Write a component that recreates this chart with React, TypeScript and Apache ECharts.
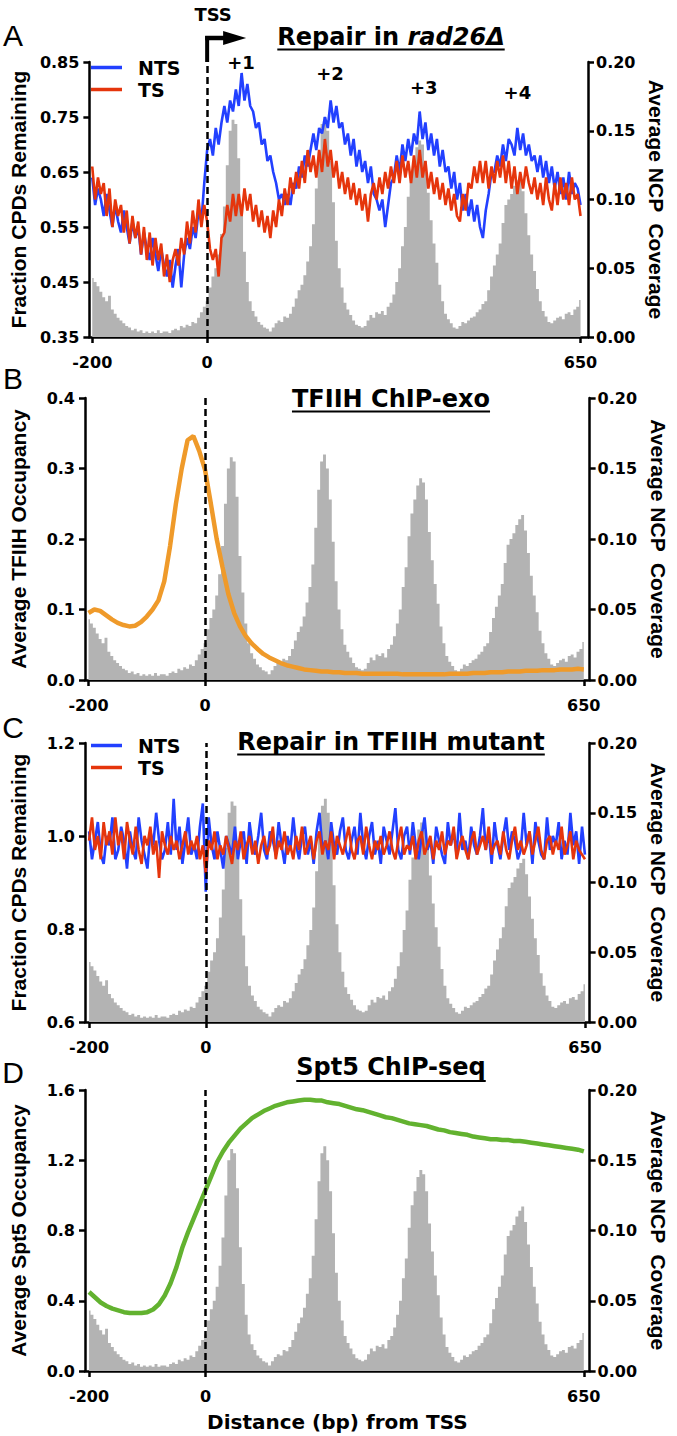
import React, { useEffect, useRef } from 'react';
import * as echarts from 'echarts';

// ---------- data ----------
// bin centres (bp from TSS) for 5-bp resolution data and 10-bp resolution data
const BP5: number[] = Array.from({ length: 171 }, (_, i) => -200 + 5 * i);
const BP10: number[] = Array.from({ length: 86 }, (_, i) => -200 + 10 * i);

const X_TICKS = [-200, 0, 650];

// Average NCP coverage (grey histogram), -200..650 step 5
const NCP = [
  0.043, 0.040, 0.037, 0.033, 0.029, 0.026, 0.030, 0.020, 0.017, 0.014,
  0.012, 0.010, 0.008, 0.007, 0.005, 0.006, 0.004, 0.005, 0.003, 0.004,
  0.003, 0.004, 0.003, 0.005, 0.003, 0.004, 0.004, 0.003, 0.005, 0.006,
  0.005, 0.008, 0.007, 0.009, 0.008, 0.011, 0.010, 0.014, 0.018, 0.022,
  0.026, 0.036, 0.044, 0.050, 0.060, 0.075, 0.095, 0.125, 0.150, 0.158,
  0.155, 0.130, 0.088, 0.062, 0.040, 0.026, 0.019, 0.015, 0.011, 0.009,
  0.007, 0.006, 0.004, 0.007, 0.010, 0.012, 0.011, 0.015, 0.014, 0.017,
  0.022, 0.028, 0.034, 0.038, 0.045, 0.055, 0.066, 0.082, 0.108, 0.135,
  0.155, 0.160, 0.150, 0.128, 0.098, 0.070, 0.050, 0.036, 0.025, 0.020,
  0.016, 0.012, 0.009, 0.008, 0.007, 0.008, 0.012, 0.016, 0.014, 0.018,
  0.017, 0.019, 0.016, 0.022, 0.025, 0.031, 0.040, 0.050, 0.066, 0.080,
  0.102, 0.118, 0.128, 0.138, 0.143, 0.140, 0.128, 0.105, 0.085, 0.068,
  0.054, 0.038, 0.026, 0.017, 0.013, 0.010, 0.007, 0.006, 0.008, 0.011,
  0.010, 0.012, 0.014, 0.015, 0.018, 0.020, 0.024, 0.026, 0.034, 0.044,
  0.052, 0.060, 0.068, 0.083, 0.096, 0.100, 0.104, 0.110, 0.114, 0.117,
  0.106, 0.090, 0.074, 0.060, 0.048, 0.035, 0.026, 0.019, 0.015, 0.011,
  0.010, 0.012, 0.014, 0.015, 0.013, 0.017, 0.018, 0.016, 0.020, 0.022,
  0.027,
];

// Panel A: fraction CPDs remaining in rad26Δ
const NTS_A = [
  0.64, 0.59, 0.62, 0.60, 0.57, 0.61, 0.58, 0.55, 0.59, 0.56,
  0.54, 0.58, 0.55, 0.52, 0.56, 0.53, 0.55, 0.50, 0.54, 0.51,
  0.49, 0.53, 0.50, 0.47, 0.51, 0.48, 0.46, 0.49, 0.44, 0.48,
  0.51, 0.44, 0.50, 0.53, 0.51, 0.55, 0.53, 0.58, 0.56, 0.63,
  0.69, 0.71, 0.68, 0.73, 0.70, 0.74, 0.77, 0.74, 0.78, 0.76,
  0.80, 0.77, 0.83, 0.78, 0.81, 0.77, 0.76, 0.73, 0.74, 0.70,
  0.71, 0.67, 0.68, 0.65, 0.63, 0.60, 0.61, 0.59, 0.61, 0.59,
  0.63, 0.62, 0.66, 0.64, 0.68, 0.66, 0.69, 0.72, 0.69, 0.73,
  0.72, 0.75, 0.73, 0.78, 0.74, 0.77, 0.73, 0.74, 0.70, 0.72,
  0.68, 0.71, 0.66, 0.69, 0.65, 0.67, 0.63, 0.66, 0.61, 0.60,
  0.58, 0.60, 0.55, 0.59, 0.63, 0.64, 0.68, 0.65, 0.70, 0.67,
  0.71, 0.68, 0.72, 0.70, 0.76, 0.71, 0.74, 0.69, 0.72, 0.68,
  0.71, 0.66, 0.69, 0.65, 0.66, 0.62, 0.65, 0.60, 0.63, 0.58,
  0.61, 0.57, 0.60, 0.56, 0.59, 0.55, 0.53, 0.58, 0.61, 0.65,
  0.65, 0.68, 0.66, 0.70, 0.67, 0.71, 0.70, 0.68, 0.73, 0.69,
  0.72, 0.68, 0.70, 0.67, 0.68, 0.65, 0.68, 0.64, 0.67, 0.63,
  0.66, 0.62, 0.65, 0.61, 0.64, 0.60, 0.65, 0.61, 0.63, 0.62,
  0.59,
];
const TS_A = [
  0.66, 0.60, 0.64, 0.61, 0.63, 0.57, 0.62, 0.55, 0.60, 0.57,
  0.59, 0.54, 0.58, 0.52, 0.57, 0.53, 0.56, 0.50, 0.55, 0.49,
  0.54, 0.48, 0.53, 0.49, 0.52, 0.46, 0.50, 0.45, 0.49, 0.51,
  0.48, 0.53, 0.50, 0.56, 0.52, 0.58, 0.54, 0.60, 0.55, 0.59,
  0.56, 0.51, 0.49, 0.51, 0.46, 0.53, 0.54, 0.59, 0.56, 0.61,
  0.57, 0.61, 0.57, 0.62, 0.58, 0.61, 0.56, 0.59, 0.55, 0.58,
  0.54, 0.57, 0.53, 0.58, 0.55, 0.60, 0.57, 0.62, 0.59, 0.64,
  0.61, 0.65, 0.62, 0.67, 0.63, 0.69, 0.65, 0.68, 0.64, 0.69,
  0.65, 0.71, 0.66, 0.69, 0.64, 0.67, 0.62, 0.65, 0.61, 0.64,
  0.60, 0.63, 0.59, 0.62, 0.58, 0.61, 0.56, 0.61, 0.63, 0.60,
  0.64, 0.61, 0.65, 0.62, 0.66, 0.63, 0.67, 0.63, 0.68, 0.64,
  0.67, 0.63, 0.68, 0.64, 0.69, 0.64, 0.67, 0.62, 0.65, 0.61,
  0.64, 0.60, 0.63, 0.59, 0.62, 0.58, 0.61, 0.57, 0.56, 0.61,
  0.58, 0.63, 0.62, 0.66, 0.63, 0.67, 0.63, 0.67, 0.62, 0.66,
  0.63, 0.67, 0.64, 0.68, 0.63, 0.67, 0.62, 0.66, 0.61, 0.65,
  0.62, 0.66, 0.63, 0.61, 0.64, 0.60, 0.63, 0.59, 0.64, 0.60,
  0.58, 0.63, 0.59, 0.64, 0.60, 0.63, 0.59, 0.64, 0.60, 0.61,
  0.57,
];

// Panel B: average TFIIH occupancy, -200..650 step 10
const TFIIH = [
  0.095, 0.100, 0.098, 0.092, 0.086, 0.081, 0.078, 0.076, 0.077, 0.082,
  0.090, 0.100, 0.113, 0.140, 0.190, 0.250, 0.300, 0.340, 0.346, 0.325,
  0.298, 0.250, 0.200, 0.160, 0.122, 0.095, 0.076, 0.062, 0.052, 0.044,
  0.037, 0.032, 0.028, 0.024, 0.021, 0.019, 0.017, 0.015, 0.014, 0.013,
  0.012, 0.012, 0.011, 0.011, 0.010, 0.010, 0.010, 0.009, 0.009, 0.009,
  0.009, 0.009, 0.009, 0.009, 0.008, 0.008, 0.008, 0.008, 0.008, 0.008,
  0.008, 0.008, 0.009, 0.009, 0.009, 0.009, 0.010, 0.010, 0.010, 0.011,
  0.011, 0.011, 0.012, 0.012, 0.012, 0.013, 0.013, 0.013, 0.014, 0.014,
  0.014, 0.015, 0.015, 0.015, 0.016, 0.015,
];

// Panel C: fraction CPDs remaining in TFIIH mutant
const NTS_C = [
  1.01, 0.95, 0.99, 1.03, 0.96, 0.94, 1.00, 0.98, 1.04, 0.95,
  0.97, 1.02, 0.99, 0.93, 1.01, 0.97, 0.95, 1.04, 0.99, 0.96,
  0.93, 1.01, 0.98, 1.05, 0.99, 0.95, 0.97, 1.03, 0.96, 1.08,
  0.97, 1.02, 0.94, 0.99, 1.04, 0.96, 0.98, 0.95, 1.02, 1.07,
  0.88, 1.04, 0.98, 0.95, 1.01, 0.97, 0.93, 1.00, 0.98, 0.96,
  1.02, 0.95, 0.99, 1.01, 0.94, 1.03, 0.98, 0.96, 1.00, 1.05,
  0.97, 0.95, 1.01, 0.99, 0.96, 1.03, 0.98, 0.94, 1.00, 0.97,
  1.04, 0.98, 0.95, 1.00, 1.02, 0.96, 0.99, 0.94, 1.01, 1.05,
  0.97, 0.99, 0.95, 1.03, 0.98, 0.96, 1.01, 1.04, 0.97, 0.95,
  0.99, 1.02, 0.96, 1.05, 0.98, 0.95, 1.00, 1.03, 0.96, 0.99,
  0.94, 1.02, 0.99, 0.96, 1.01, 1.06, 0.97, 0.95, 1.00, 1.02,
  0.96, 1.03, 0.98, 0.95, 1.00, 1.04, 0.97, 0.99, 0.94, 1.02,
  0.99, 0.96, 0.94, 1.03, 0.98, 1.01, 0.96, 1.05, 0.97, 0.99,
  0.95, 1.02, 0.98, 0.96, 1.00, 1.06, 0.97, 1.01, 0.94, 1.03,
  0.98, 0.95, 1.00, 1.04, 0.97, 1.01, 0.99, 0.95, 0.97, 1.05,
  0.98, 1.01, 0.94, 1.03, 0.99, 0.96, 0.95, 1.04, 0.97, 1.00,
  0.98, 1.03, 0.95, 0.99, 0.96, 1.05, 0.98, 1.01, 0.94, 1.02,
  0.96,
];
const TS_C = [
  0.99, 1.04, 0.97, 1.00, 0.95, 1.03, 0.98, 1.01, 0.96, 1.04,
  0.98, 1.01, 0.95, 1.03, 0.99, 0.96, 1.02, 0.97, 0.94, 1.00,
  0.98, 1.02, 0.96, 0.99, 0.91, 1.01, 0.98, 0.96, 1.00, 0.97,
  0.99, 0.95, 0.98, 1.01, 0.96, 0.99, 0.97, 1.00, 0.95, 0.98,
  0.92, 0.99, 0.97, 1.01, 0.95, 0.98, 0.96, 1.00, 0.97, 0.94,
  0.99, 0.97, 1.01, 0.95, 0.98, 1.00, 0.96, 0.99, 0.94, 0.98,
  1.00, 0.96, 0.98, 1.02, 0.95, 0.99, 0.97, 1.01, 0.96, 0.98,
  0.95, 1.00, 0.97, 1.02, 0.96, 0.98, 1.00, 0.95, 0.99, 1.01,
  0.96, 0.99, 0.97, 1.01, 0.95, 1.00, 0.98, 0.96, 0.99, 1.02,
  0.97, 0.95, 0.99, 1.00, 0.96, 1.02, 0.98, 0.95, 0.99, 0.97,
  1.00, 0.96, 0.98, 1.01, 0.97, 0.95, 0.99, 1.02, 0.96, 0.98,
  0.97, 1.00, 0.95, 0.99, 1.01, 0.96, 0.98, 1.00, 0.95, 0.99,
  0.97, 1.01, 0.96, 0.99, 0.98, 1.02, 0.95, 0.98, 1.00, 0.97,
  0.95, 0.99, 1.01, 0.96, 0.98, 1.00, 0.97, 1.02, 0.96, 0.98,
  0.99, 0.96, 1.01, 0.97, 0.95, 0.99, 1.02, 0.97, 0.99, 0.96,
  0.98, 1.01, 0.96, 0.99, 1.02, 0.97, 0.95, 0.99, 1.00, 0.96,
  0.99, 0.97, 1.02, 0.96, 0.98, 1.01, 0.95, 0.99, 0.97, 0.96,
  0.95,
];

// Panel D: average Spt5 occupancy, -200..650 step 10
const SPT5 = [
  0.45, 0.42, 0.39, 0.37, 0.355, 0.345, 0.335, 0.33, 0.33, 0.33,
  0.335, 0.35, 0.38, 0.43, 0.50, 0.59, 0.70, 0.79, 0.87, 0.95,
  1.03, 1.11, 1.19, 1.25, 1.30, 1.34, 1.38, 1.41, 1.44, 1.46,
  1.48, 1.495, 1.51, 1.52, 1.53, 1.535, 1.54, 1.545, 1.545, 1.54,
  1.54, 1.53, 1.525, 1.52, 1.51, 1.50, 1.49, 1.485, 1.475, 1.465,
  1.455, 1.445, 1.44, 1.43, 1.42, 1.41, 1.405, 1.40, 1.395, 1.385,
  1.375, 1.37, 1.36, 1.355, 1.35, 1.345, 1.335, 1.33, 1.325, 1.32,
  1.32, 1.315, 1.315, 1.31, 1.31, 1.305, 1.30, 1.295, 1.29, 1.285,
  1.28, 1.275, 1.27, 1.265, 1.26, 1.25,
];

const A_LEFT_TICKS = [0.35, 0.45, 0.55, 0.65, 0.75, 0.85];
const C_LEFT_TICKS = [0.6, 0.8, 1.0, 1.2];
const NUC_LABELS = [
  { text: '+1', bp: 59, y: 62 },
  { text: '+2', bp: 214, y: 73 },
  { text: '+3', bp: 377, y: 87 },
  { text: '+4', bp: 540, y: 92 },
];

// ---------- style ----------
const FONT = 'DejaVu Sans';
const VFONT = 'Liberation Sans';
const GRAY = '#b3b3b3';
const BLUE = '#2240ff';
const RED = '#e5350c';
const ORANGE = '#ef9a2a';
const GREEN = '#62b22f';

const GRIDS = [
  { left: 82, top: 62, width: 506, height: 275 },
  { left: 79, top: 398, width: 513, height: 282 },
  { left: 81, top: 743, width: 513, height: 279 },
  { left: 81, top: 1090, width: 516, height: 281 },
];
const XRANGE = [
  [-205, 663],
  [-206, 660],
  [-207, 658],
  [-207, 660],
];

const pair = (xs: number[], ys: number[]) => xs.map((x, i) => [x, ys[i]]);

const axisLineStyle = { color: '#000', width: 2.5 };
const labelStyle = { fontFamily: FONT, fontWeight: 'bold' as const, fontSize: 16, color: '#000' };
const nameStyle = { fontFamily: VFONT, fontWeight: 'bold' as const, fontSize: 21, color: '#000' };

function xAxis(i: number, withName = false) {
  return {
    type: 'value',
    gridIndex: i,
    min: XRANGE[i][0],
    max: XRANGE[i][1],
    axisLine: { show: true, onZero: false, lineStyle: axisLineStyle },
    axisTick: { show: true, length: 6, lineStyle: axisLineStyle, customValues: X_TICKS },
    axisLabel: { ...labelStyle, margin: 17, customValues: X_TICKS },
    splitLine: { show: false },
    name: withName ? 'Distance (bp) from TSS' : '',
    nameLocation: 'middle',
    nameGap: 41,
    nameTextStyle: { fontFamily: FONT, fontWeight: 'bold', fontSize: 20, color: '#000' },
  };
}

function leftY(i: number, name: string, min: number, max: number, digits: number, extra: any) {
  const { ticks, ...rest } = extra;
  return {
    type: 'value',
    gridIndex: i,
    position: 'left',
    min,
    max,
    ...rest,
    axisLine: { show: true, onZero: false, lineStyle: axisLineStyle },
    axisTick: { show: true, length: 6, lineStyle: axisLineStyle, ...(ticks ? { customValues: ticks } : {}) },
    axisLabel: {
      ...labelStyle,
      margin: 10,
      formatter: (v: number) => v.toFixed(digits),
      ...(ticks ? { customValues: ticks } : {}),
    },
    splitLine: { show: false },
    name,
    nameLocation: 'middle',
    nameGap: 56,
    nameTextStyle: nameStyle,
  };
}

function rightY(i: number) {
  return {
    type: 'value',
    gridIndex: i,
    position: 'right',
    min: 0,
    max: 0.2,
    interval: 0.05,
    axisLine: { show: true, onZero: false, lineStyle: axisLineStyle },
    axisTick: { show: true, length: 6, lineStyle: axisLineStyle },
    axisLabel: { ...labelStyle, margin: 8, formatter: (v: number) => v.toFixed(2) },
    splitLine: { show: false },
    name: 'Average NCP  Coverage',
    nameLocation: 'middle',
    nameRotate: -90,
    nameGap: 56,
    nameTextStyle: nameStyle,
  };
}

function hist(i: number) {
  return {
    type: 'line',
    xAxisIndex: i,
    yAxisIndex: 2 * i + 1,
    data: pair(BP5, NCP),
    step: 'middle',
    symbol: 'none',
    showSymbol: false,
    lineStyle: { width: 0, color: GRAY },
    itemStyle: { color: GRAY },
    areaStyle: { color: GRAY, opacity: 1 },
    silent: true,
    z: 1,
    markLine: {
      silent: true,
      symbol: 'none',
      label: { show: false },
      lineStyle: { color: '#000', type: [7, 4], width: 2.5 },
      data: [{ xAxis: 0 }],
      z: 5,
    },
  };
}

function curve(i: number, name: string, xs: number[], ys: number[], color: string, width: number) {
  return {
    type: 'line',
    name,
    xAxisIndex: i,
    yAxisIndex: 2 * i,
    data: pair(xs, ys),
    symbol: 'none',
    showSymbol: false,
    lineStyle: { color, width },
    itemStyle: { color },
    z: 3,
  };
}

const legend = (top: number) => ({
  data: ['NTS', 'TS'],
  orient: 'vertical',
  left: 91,
  top,
  padding: 0,
  itemWidth: 31,
  itemHeight: 3.5,
  itemGap: 3,
  icon: 'rect',
  selectedMode: false,
  textStyle: { fontFamily: FONT, fontWeight: 'bold', fontSize: 19, color: '#000', lineHeight: 18, padding: [0, 0, 0, 11] },
});

const option: any = {
  animation: false,
  backgroundColor: '#fff',
  grid: GRIDS.map((g) => ({ ...g, containLabel: false })),
  xAxis: [xAxis(0), xAxis(1), xAxis(2), xAxis(3, true)],
  yAxis: [
    leftY(0, 'Fraction CPDs Remaining', 0.35, 0.85, 2, { ticks: A_LEFT_TICKS }),
    rightY(0),
    leftY(1, 'Average TFIIH Occupancy', 0, 0.4, 1, { interval: 0.1 }),
    rightY(1),
    leftY(2, 'Fraction CPDs Remaining', 0.6, 1.2, 1, { ticks: C_LEFT_TICKS }),
    rightY(2),
    leftY(3, 'Average Spt5 Occupancy', 0, 1.6, 1, { interval: 0.4 }),
    rightY(3),
  ],
  legend: [legend(58), legend(736)],
  series: [
    hist(0),
    curve(0, 'NTS', BP5, NTS_A, BLUE, 2.6),
    curve(0, 'TS', BP5, TS_A, RED, 2.6),
    hist(1),
    curve(1, 'TFIIH', BP10, TFIIH, ORANGE, 4.5),
    hist(2),
    curve(2, 'NTS', BP5, NTS_C, BLUE, 2.6),
    curve(2, 'TS', BP5, TS_C, RED, 2.6),
    hist(3),
    curve(3, 'Spt5', BP10, SPT5, GREEN, 4.5),
  ],
};

export default function App() {
  const ref = useRef<HTMLDivElement>(null);
  useEffect(() => {
    const chart = echarts.init(ref.current!, null, { renderer: 'svg' });
    chart.setOption(option);

    const ctx = document.createElement('canvas').getContext('2d')!;
    const measure = (t: string, size: number, italic = false) => {
      ctx.font = `${italic ? 'italic ' : ''}bold ${size}px "${FONT}"`;
      return ctx.measureText(t).width;
    };
    const px = (bp: number) =>
      (chart.convertToPixel({ xAxisIndex: 0, yAxisIndex: 0 }, [bp, 0.85]) as number[])[0];

    const TS = 24;
    const titles = [
      { plain: 'Repair in ', ital: 'rad26Δ', cy: 37, uy: 49.5 },
      { plain: 'TFIIH ChIP-exo', ital: '', cy: 399, uy: 411.5 },
      { plain: 'Repair in TFIIH mutant', ital: '', cy: 742, uy: 754.5 },
      { plain: 'Spt5 ChIP-seq', ital: '', cy: 1067, uy: 1081 },
    ];
    const CX = 391;
    const graphics: any[] = [];
    titles.forEach((t) => {
      const w = measure(t.plain, TS) + (t.ital ? measure(t.ital, TS, true) : 0);
      const x1 = CX - w / 2;
      graphics.push({
        type: 'text',
        x: x1,
        y: t.cy,
        style: {
          text: t.ital ? `${t.plain}{it|${t.ital}}` : t.plain,
          fill: '#000',
          fontFamily: FONT,
          fontWeight: 'bold',
          fontSize: TS,
          align: 'left',
          verticalAlign: 'middle',
          rich: { it: { fontFamily: FONT, fontWeight: 'bold', fontStyle: 'italic', fontSize: TS, fill: '#000' } },
        },
      });
      graphics.push({
        type: 'line',
        shape: { x1, y1: t.uy, x2: x1 + w, y2: t.uy },
        style: { stroke: '#000', lineWidth: 2 },
      });
    });

    // panel letters
    [
      ['A', 35],
      ['B', 378],
      ['C', 727],
      ['D', 1072],
    ].forEach(([l, y]) => {
      graphics.push({
        type: 'text',
        x: 13,
        y: y as number,
        style: { text: l as string, fill: '#000', fontFamily: VFONT, fontSize: 30, align: 'center', verticalAlign: 'middle' },
      });
    });

    // TSS arrow
    const x0 = px(0);
    graphics.push({ type: 'line', shape: { x1: x0, y1: 62, x2: x0, y2: 36 }, style: { stroke: '#000', lineWidth: 4 } });
    graphics.push({ type: 'line', shape: { x1: x0 - 2, y1: 38, x2: x0 + 18, y2: 38 }, style: { stroke: '#000', lineWidth: 4.5 } });
    graphics.push({
      type: 'polygon',
      shape: { points: [[x0 + 16, 31], [x0 + 39, 38], [x0 + 16, 45]] },
      style: { fill: '#000' },
    });
    graphics.push({
      type: 'text',
      x: x0 + 6,
      y: 14,
      style: { text: 'TSS', fill: '#000', fontFamily: FONT, fontWeight: 'bold', fontSize: 18, align: 'center', verticalAlign: 'middle' },
    });
    NUC_LABELS.forEach((n) => {
      graphics.push({
        type: 'text',
        x: px(n.bp),
        y: n.y,
        style: { text: n.text, fill: '#000', fontFamily: FONT, fontWeight: 'bold', fontSize: 18, align: 'center', verticalAlign: 'middle' },
      });
    });

    chart.setOption({ graphic: graphics });
    return () => chart.dispose();
  }, []);
  return <div ref={ref} style={{ position: 'absolute', left: 0, top: 0, width: 677, height: 1436 }} />;
}
